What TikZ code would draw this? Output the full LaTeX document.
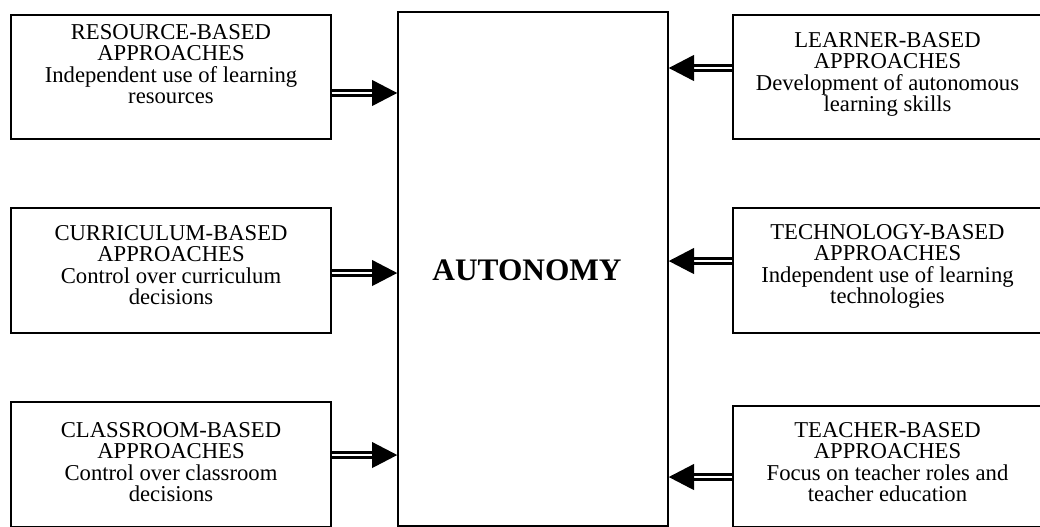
\documentclass[tikz,border=0pt]{standalone}
\usepackage{fontspec}
\setmainfont{Liberation Serif}
\usetikzlibrary{arrows.meta,positioning}

\tikzset{
  apbox/.style={draw, line width=1pt, inner sep=0pt},
  aptext/.style={align=center, inner sep=0pt, font=\fontsize{17pt}{16pt}\selectfont},
  feed/.style={double, double distance=0.8pt, line width=2.4pt, -{Triangle[length=19pt,width=19pt]}}
}

\begin{document}
\begin{tikzpicture}[x=0.75pt,y=0.75pt,yscale=-1,xscale=1]
\useasboundingbox (0,0) rectangle (1040,527);

%Shape: Rectangle [centre]
\node[apbox, minimum width=202.5pt, minimum height=385.5pt] (auto) at (533,269) {};
% Text Node
\node[font=\bfseries\fontsize{23.5pt}{26pt}\selectfont, inner sep=0pt] (auto-t) at (527,270) {AUTONOMY};

%Shape: Rectangle [left column]
\node[apbox, minimum width=240pt, minimum height=93pt] (res) at (171,77) {};
\node[apbox, minimum width=240pt, minimum height=93.75pt] (cur) at (171,270.5) {};
\node[apbox, minimum width=240pt, minimum height=93.75pt] (cls) at (171,464.5) {};
% Text Node
\node[aptext, below=7.5pt of res.north] (res-t) {RESOURCE-BASED\\APPROACHES\\Independent use of learning\\resources};
\node[aptext, below=13.5pt of cur.north] (cur-t) {CURRICULUM-BASED\\APPROACHES\\Control over curriculum\\decisions};
\node[aptext, below=15.75pt of cls.north] (cls-t) {CLASSROOM-BASED\\APPROACHES\\Control over classroom\\decisions};

%Shape: Rectangle [right column]
\node[apbox, minimum width=231.75pt, minimum height=93pt] (lrn) at (887.5,77) {};
\node[apbox, minimum width=231.75pt, minimum height=93.75pt] (tec) at (887.5,270.5) {};
\node[apbox, minimum width=231.75pt, minimum height=90.75pt] (tch) at (887.5,466.5) {};
% Text Node
\node[aptext, below=13.5pt of lrn.north] (lrn-t) {LEARNER-BASED\\APPROACHES\\Development of autonomous\\learning skills};
\node[aptext, below=12.75pt of tec.north] (tec-t) {TECHNOLOGY-BASED\\APPROACHES\\Independent use of learning\\technologies};
\node[aptext, below=12.75pt of tch.north] (tch-t) {TEACHER-BASED\\APPROACHES\\Focus on teacher roles and\\teacher education};

%Straight Lines [arrows in] (yshift is flipped by yscale=-1)
\draw[feed] ([yshift=12pt]res.east) coordinate (r1) -- (r1 -| auto.west);
\draw[feed] ([yshift=1.9pt]cur.east) coordinate (r2) -- (r2 -| auto.west);
\draw[feed] ([yshift=-7.1pt]cls.east) coordinate (r3) -- (r3 -| auto.west);
\draw[feed] ([yshift=-6.75pt]lrn.west) coordinate (l1) -- (l1 -| auto.east);
\draw[feed] ([yshift=-7.1pt]tec.west) coordinate (l2) -- (l2 -| auto.east);
\draw[feed] ([yshift=7.9pt]tch.west) coordinate (l3) -- (l3 -| auto.east);

\end{tikzpicture}
\end{document}
